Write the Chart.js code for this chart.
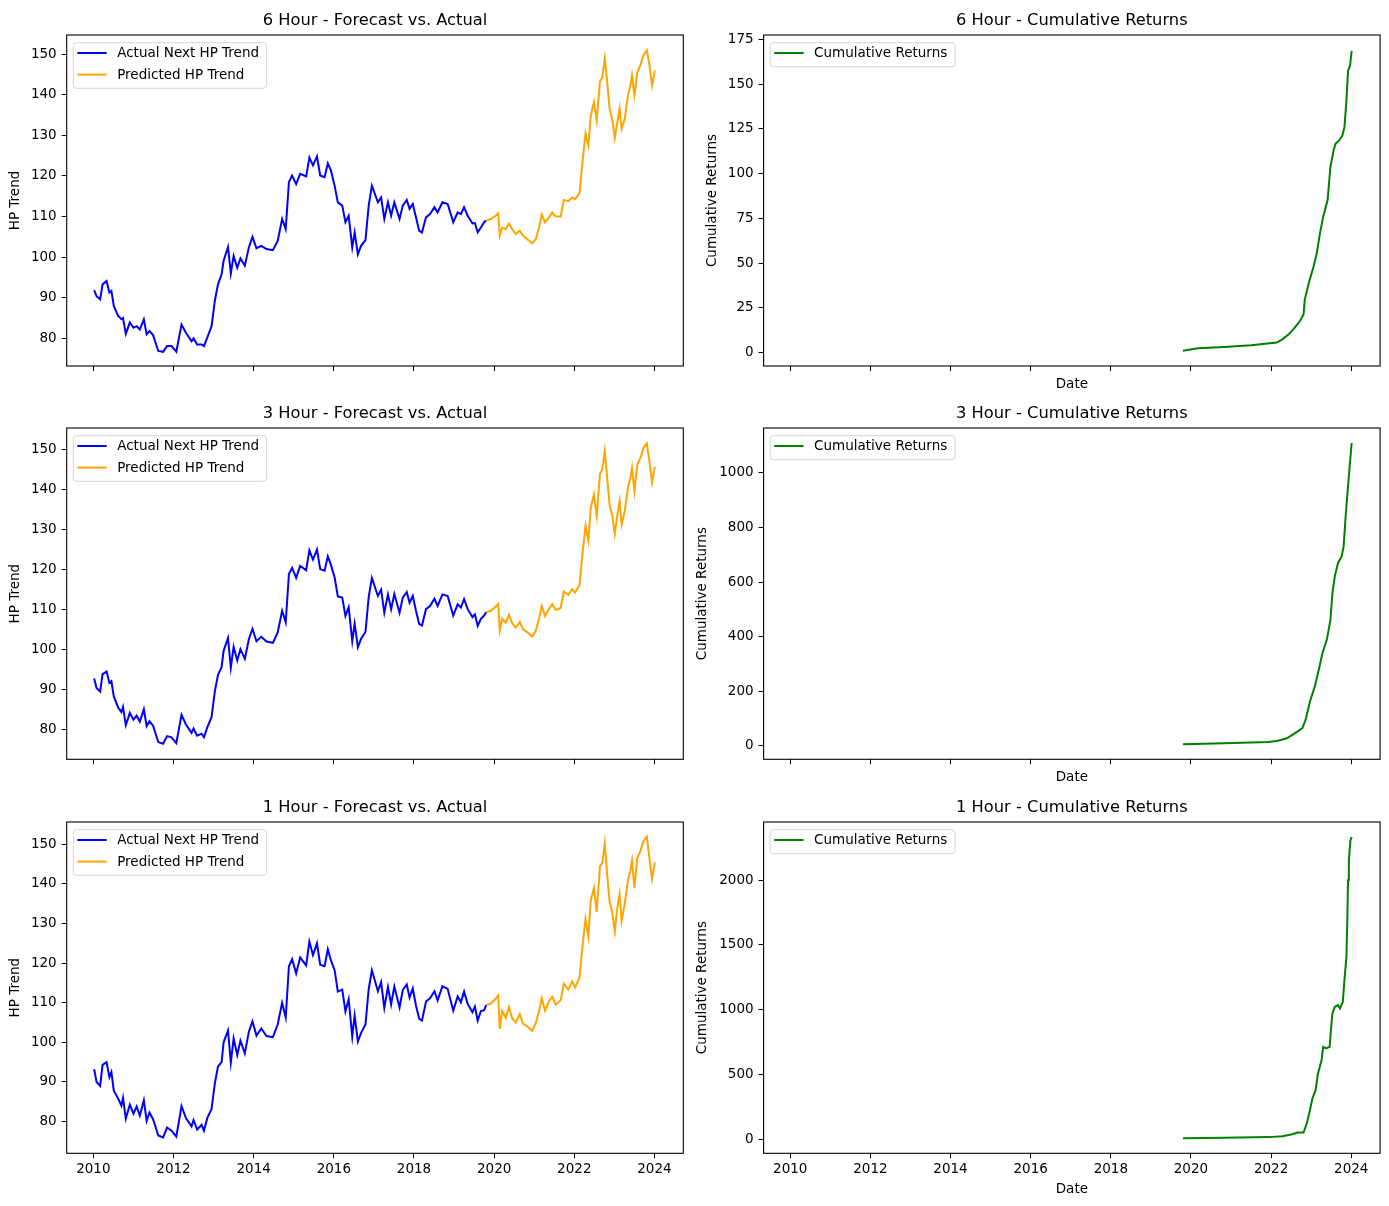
<!DOCTYPE html>
<html>
<head>
<meta charset="utf-8">
<script src="https://cdn.jsdelivr.net/npm/chart.js@4.4.1/dist/chart.umd.min.js"></script>
<style>
  body { margin: 0; background: #fff; }
  #fig { position: relative; width: 1389px; height: 1206px; }
  #fig canvas { position: absolute; }
</style>
</head>
<body>
<div id="fig">
  <canvas id="hp6" width="690" height="393" style="left:0;top:0"></canvas>
  <canvas id="cum6" width="697" height="393" style="left:692px;top:0"></canvas>
  <canvas id="hp3" width="690" height="394" style="left:0;top:393px"></canvas>
  <canvas id="cum3" width="697" height="394" style="left:692px;top:393px"></canvas>
  <canvas id="hp1" width="690" height="419" style="left:0;top:787px"></canvas>
  <canvas id="cum1" width="697" height="419" style="left:692px;top:787px"></canvas>
</div>
<script>
// shared x values (decimal years)
var actualYears = [
  2010.02, 2010.08, 2010.17, 2010.23, 2010.33, 2010.40, 2010.45, 2010.51, 2010.62, 2010.70,
  2010.74, 2010.81, 2010.91, 2011.00, 2011.08, 2011.16, 2011.26, 2011.33, 2011.40, 2011.49,
  2011.62, 2011.74, 2011.84, 2011.95, 2012.07, 2012.20, 2012.31, 2012.45, 2012.50, 2012.59,
  2012.70, 2012.76, 2012.84, 2012.95, 2013.03, 2013.11, 2013.20, 2013.25, 2013.36, 2013.43,
  2013.50, 2013.59, 2013.67, 2013.78, 2013.88, 2013.97, 2014.07, 2014.19, 2014.32, 2014.48,
  2014.60, 2014.71, 2014.80, 2014.88, 2014.96, 2015.06, 2015.16, 2015.31, 2015.39, 2015.48,
  2015.58, 2015.66, 2015.77, 2015.85, 2015.93, 2016.02, 2016.10, 2016.21, 2016.29, 2016.37,
  2016.46, 2016.52, 2016.60, 2016.68, 2016.79, 2016.87, 2016.95, 2017.10, 2017.18, 2017.26,
  2017.35, 2017.43, 2017.51, 2017.64, 2017.72, 2017.82, 2017.89, 2017.97, 2018.05, 2018.13,
  2018.20, 2018.30, 2018.40, 2018.51, 2018.59, 2018.71, 2018.84, 2018.98, 2019.09, 2019.17,
  2019.25, 2019.34, 2019.46, 2019.52, 2019.59, 2019.67, 2019.75, 2019.80
];
var predYears = [
  2019.80, 2019.92, 2020.04, 2020.10, 2020.14, 2020.20, 2020.29, 2020.37, 2020.45, 2020.54,
  2020.64, 2020.72, 2020.83, 2020.95, 2021.04, 2021.12, 2021.19, 2021.27, 2021.37, 2021.45,
  2021.54, 2021.66, 2021.74, 2021.85, 2021.95, 2022.02, 2022.13, 2022.20, 2022.28, 2022.35,
  2022.41, 2022.49, 2022.56, 2022.64, 2022.70, 2022.76, 2022.82, 2022.88, 2022.95, 2023.01,
  2023.07, 2023.13, 2023.18, 2023.26, 2023.34, 2023.40, 2023.44, 2023.50, 2023.57, 2023.65,
  2023.73, 2023.81, 2023.87, 2023.94, 2024.01
];

// 6 hour
var actual6 = [
  91.9, 90.4, 89.6, 93.3, 94.1, 91.3, 91.7, 88.0, 85.5, 84.7,
  85.0, 81.1, 83.9, 82.6, 83.0, 82.2, 84.7, 81.0, 81.8, 80.8,
  76.9, 76.7, 78.1, 78.1, 76.7, 83.4, 81.4, 79.3, 80.0, 78.5,
  78.5, 78.1, 80.1, 83.0, 89.2, 93.3, 95.8, 99.1, 102.5, 96.0,
  100.3, 97.4, 99.7, 97.9, 102.4, 105.0, 102.2, 102.8, 102.0, 101.7,
  104.0, 109.4, 106.9, 118.5, 120.1, 118.0, 120.5, 119.9, 124.5, 122.6,
  124.8, 120.1, 119.7, 123.1, 121.3, 117.6, 113.5, 112.7, 108.6, 110.2,
  102.4, 106.1, 100.7, 102.8, 104.2, 112.7, 117.6, 113.5, 114.7, 109.4,
  113.5, 110.2, 113.5, 109.4, 112.7, 114.1, 111.9, 113.1, 109.8, 106.5,
  106.1, 109.8, 110.6, 112.3, 111.0, 113.5, 113.1, 108.6, 111.0, 110.6,
  112.3, 110.2, 108.3, 108.4, 106.1, 107.3, 108.6, 109.0
];
var pred6 = [
  109.0, 109.4, 110.2, 110.8, 105.3, 107.3, 106.9, 108.3, 106.9, 105.7,
  106.5, 105.3, 104.4, 103.4, 104.4, 107.3, 110.5, 108.6, 109.8, 111.0,
  110.0, 110.0, 114.1, 113.8, 114.7, 114.3, 115.7, 123.0, 130.4, 127.5,
  134.7, 138.2, 133.7, 143.2, 144.4, 148.9, 143.2, 136.6, 133.7, 129.4,
  132.9, 136.6, 131.6, 134.1, 139.9, 142.3, 144.8, 139.9, 145.4, 147.3,
  149.8, 151.0, 147.7, 142.3, 146.0
];

// 3 hour
var actual3 = [
  92.7, 90.3, 89.4, 93.8, 94.4, 91.6, 92.0, 88.2, 85.4, 84.3,
  85.6, 81.0, 84.1, 82.4, 83.4, 81.9, 85.0, 80.8, 82.0, 80.9,
  76.8, 76.4, 78.3, 78.0, 76.5, 83.6, 81.2, 79.1, 80.2, 78.4,
  78.9, 78.0, 80.4, 83.0, 89.4, 93.6, 95.5, 99.6, 102.8, 95.4,
  100.6, 97.2, 100.0, 97.6, 102.5, 105.1, 102.0, 103.1, 101.9, 101.6,
  104.2, 109.6, 106.7, 118.8, 120.3, 117.8, 120.8, 119.7, 124.7, 122.4,
  124.9, 120.0, 119.6, 123.2, 121.0, 117.9, 113.2, 112.9, 108.3, 110.5,
  102.0, 106.4, 100.5, 102.6, 104.3, 113.0, 117.8, 113.3, 114.9, 109.1,
  113.7, 110.0, 113.8, 109.1, 112.9, 114.3, 111.6, 113.3, 109.6, 106.3,
  105.9, 110.0, 110.8, 112.6, 110.8, 113.7, 113.3, 108.4, 111.2, 110.4,
  112.5, 110.0, 108.0, 108.7, 105.8, 107.6, 108.4, 109.2
];
var pred3 = [
  109.2, 109.6, 110.6, 111.3, 104.6, 107.6, 106.6, 108.6, 106.5, 105.4,
  106.8, 105.0, 104.2, 103.2, 104.6, 107.6, 110.8, 108.3, 110.1, 111.2,
  109.8, 110.3, 114.4, 113.6, 115.0, 114.1, 116.0, 123.4, 130.8, 127.1,
  135.2, 138.6, 133.3, 143.8, 144.9, 149.5, 142.8, 136.1, 133.2, 128.8,
  133.3, 137.0, 131.1, 134.5, 140.4, 142.8, 145.3, 139.5, 145.9, 147.8,
  150.3, 151.4, 147.3, 141.6, 145.6
];

// 1 hour
var actual1 = [
  93.2, 90.0, 89.0, 94.3, 95.0, 91.2, 92.5, 87.8, 85.8, 84.0,
  86.0, 80.7, 84.3, 82.0, 83.8, 81.5, 85.4, 80.2, 82.3, 80.6,
  76.5, 76.0, 78.5, 77.7, 76.2, 83.9, 80.9, 78.8, 80.4, 78.0,
  79.2, 77.7, 80.8, 83.2, 89.6, 93.9, 95.0, 100.0, 103.0, 94.9,
  101.0, 96.8, 100.4, 97.2, 102.7, 105.3, 101.7, 103.5, 101.6, 101.3,
  104.5, 110.0, 106.3, 119.2, 121.0, 117.4, 121.4, 119.4, 125.4, 122.0,
  125.0, 119.6, 119.2, 123.5, 120.6, 118.2, 112.8, 113.3, 107.8, 110.9,
  101.5, 106.8, 100.2, 102.4, 104.5, 113.4, 118.2, 112.9, 115.2, 108.7,
  114.0, 109.6, 114.1, 108.8, 113.2, 114.6, 111.3, 113.6, 109.3, 106.0,
  105.5, 110.3, 111.1, 112.9, 110.6, 114.2, 113.5, 108.0, 111.6, 110.1,
  112.8, 109.7, 107.6, 109.0, 105.5, 107.9, 108.1, 109.4
];
var pred1 = [
  109.4, 109.8, 111.0, 111.8, 103.4, 107.9, 106.2, 108.9, 106.1, 105.0,
  107.1, 104.7, 104.0, 102.9, 104.9, 107.9, 111.1, 108.0, 110.4, 111.5,
  109.5, 110.6, 114.8, 113.3, 115.4, 113.8, 116.3, 123.8, 131.2, 126.8,
  135.7, 139.0, 132.9, 144.4, 145.3, 150.2, 142.4, 135.6, 132.6, 128.0,
  133.7, 137.4, 130.6, 135.0, 141.0, 143.3, 145.8, 139.0, 146.4, 148.3,
  150.8, 151.9, 146.9, 141.2, 145.4
];

// cumulative returns
var cumYears6 = [2019.80, 2020.17, 2020.83, 2021.50, 2022.14, 2022.28, 2022.44, 2022.59, 2022.72, 2022.81,
  2022.84, 2022.94, 2023.06, 2023.14, 2023.22, 2023.30, 2023.41, 2023.48, 2023.56, 2023.61,
  2023.70, 2023.78, 2023.83, 2023.88, 2023.92, 2023.97, 2024.01];
var cum6 = [1.0, 2.4, 3.1, 4.1, 5.6, 7.4, 10.2, 13.9, 17.6, 21.3,
  29.6, 38.9, 48.1, 55.6, 66.7, 75.9, 85.2, 103.7, 113.0, 116.7,
  118.5, 121.3, 125.9, 140.7, 157.4, 160.2, 168.5];
var cumYears3 = [2019.80, 2020.83, 2021.94, 2022.17, 2022.39, 2022.59, 2022.78, 2022.86, 2022.97, 2023.09,
  2023.19, 2023.28, 2023.39, 2023.48, 2023.53, 2023.59, 2023.67, 2023.76, 2023.81, 2023.86,
  2023.90, 2023.94, 2024.01];
var cum3 = [5, 8.6, 13, 18, 27, 45, 64, 94, 162, 217,
  278, 339, 388, 461, 559, 621, 670, 694, 731, 841,
  914, 988, 1110];
var cumYears1 = [2019.80, 2020.83, 2021.94, 2022.28, 2022.50, 2022.67, 2022.81, 2022.89, 2022.97, 2023.03,
  2023.11, 2023.17, 2023.26, 2023.30, 2023.37, 2023.46, 2023.50, 2023.53, 2023.59, 2023.67,
  2023.72, 2023.79, 2023.83, 2023.88, 2023.90, 2023.92, 2023.94, 2023.98, 2024.01];
var cum1 = [6, 10, 15, 22, 35, 50, 50, 120, 224, 314,
  378, 507, 610, 713, 700, 713, 867, 970, 1022, 1035,
  1009, 1060, 1228, 1408, 1665, 2000, 2154, 2309, 2333];

// tick labels
var xTicks = [2010, 2012, 2014, 2016, 2018, 2020, 2022, 2024];
var hpTicks = [80, 90, 100, 110, 120, 130, 140, 150];
var cum6Ticks = [0, 25, 50, 75, 100, 125, 150, 175];
var cum3Ticks = [0, 200, 400, 600, 800, 1000];
var cum1Ticks = [0, 500, 1000, 1500, 2000];

var X_MIN = 2009.335, X_MAX = 2024.72;
var FONT = "'DejaVu Sans', sans-serif";

Chart.defaults.font.family = FONT;
Chart.defaults.font.size = 13.5;
Chart.defaults.color = '#000';

function points(xs, ys) {
  return xs.map(function (x, i) { return { x: x, y: ys[i] }; });
}

function roundBox(ctx, l, t, r, b, rad) {
  ctx.beginPath();
  ctx.moveTo(l + rad, t);
  ctx.arcTo(r, t, r, b, rad);
  ctx.arcTo(r, b, l, b, rad);
  ctx.arcTo(l, b, l, t, rad);
  ctx.arcTo(l, t, r, t, rad);
  ctx.closePath();
}

// matplotlib-like legend (upper left, inside the axes) and axes box
var boxPlugin = {
  id: 'boxPlugin',
  afterDatasetsDraw: function (chart) {
    var a = chart.chartArea, ctx = chart.ctx;
    var sets = chart.data.datasets;
    ctx.save();
    ctx.font = '13.5px ' + FONT;
    var w = 0;
    sets.forEach(function (d) { w = Math.max(w, ctx.measureText(d.label).width); });
    var l = a.left + 6.6, t = a.top + 7.7;
    var r = a.left + 50.5 + w + 7.6, b = t + 10 + 21.6 * (sets.length - 1) + 14;
    roundBox(ctx, l, t, r, b, 3);
    ctx.fillStyle = 'rgba(255,255,255,0.8)';
    ctx.fill();
    ctx.strokeStyle = '#d6d6d6';
    ctx.lineWidth = 1;
    ctx.stroke();
    ctx.textBaseline = 'middle';
    ctx.textAlign = 'left';
    sets.forEach(function (d, i) {
      var y = t + 10.3 + 21.6 * i;
      ctx.strokeStyle = d.borderColor;
      ctx.lineWidth = 2;
      ctx.beginPath();
      ctx.moveTo(a.left + 10.6, y);
      ctx.lineTo(a.left + 40, y);
      ctx.stroke();
      ctx.fillStyle = '#000';
      ctx.fillText(d.label, a.left + 50.5, y + 0.5);
    });
    ctx.restore();
  },
  afterDraw: function (chart) {
    var a = chart.chartArea, ctx = chart.ctx;
    ctx.save();
    ctx.strokeStyle = '#000';
    ctx.lineWidth = 1.1;
    ctx.strokeRect(a.left, a.top, a.right - a.left, a.bottom - a.top);
    ctx.restore();
  }
};

function options(o) {
  return {
    responsive: false,
    animation: false,
    layout: { padding: { left: 0, right: o.padRight, top: 0, bottom: 0 }, autoPadding: false },
    elements: { point: { radius: 0 }, line: { borderWidth: 2, tension: 0 } },
    plugins: {
      title: {
        display: true, text: o.title, fullSize: false, color: '#000',
        font: { size: 16.3, weight: 'normal' },
        padding: { top: 11.2, bottom: 4.24 }
      },
      legend: { display: false },
      tooltip: { enabled: false }
    },
    scales: {
      x: {
        type: 'linear', min: X_MIN, max: X_MAX,
        afterBuildTicks: function (ax) { ax.ticks = xTicks.map(function (v) { return { value: v }; }); },
        afterFit: function (s) { s.height = o.xAxisH; },
        border: { display: false },
        grid: { drawOnChartArea: false, color: '#000', tickLength: 5, lineWidth: 1 },
        ticks: {
          display: o.xLabels, padding: 3, color: '#000', autoSkip: false, maxRotation: 0,
          callback: function (v) { return String(v); }
        },
        title: { display: o.xTitle, text: 'Date', color: '#000', padding: { top: 0, bottom: o.xTitlePad } }
      },
      y: {
        min: o.yMin, max: o.yMax,
        afterBuildTicks: function (ax) { ax.ticks = o.yTicks.map(function (v) { return { value: v }; }); },
        afterFit: function (s) { s.width = o.yAxisW; },
        border: { display: false },
        grid: { drawOnChartArea: false, color: '#000', tickLength: 5, lineWidth: 1 },
        ticks: { padding: 5, color: '#000', autoSkip: false, callback: function (v) { return String(v); } },
        title: { display: true, text: o.yTitle, color: '#000', padding: { top: o.yTitlePad, bottom: 0 } }
      }
    }
  };
}

var rows = [
  { xAxisH: 27, xLabels: false, xTitlePad: 0.9 },
  { xAxisH: 27.7, xLabels: false, xTitlePad: 1.6 },
  { xAxisH: 52.7, xLabels: true, xTitlePad: 8.9 }
];

function hpChart(id, row, title, actual, pred, yMin, yMax) {
  var r = rows[row];
  new Chart(document.getElementById(id), {
    type: 'line',
    data: {
      datasets: [
        { label: 'Actual Next HP Trend', data: points(actualYears, actual), borderColor: '#0000ff', backgroundColor: '#0000ff' },
        { label: 'Predicted HP Trend', data: points(predYears, pred), borderColor: '#ffa500', backgroundColor: '#ffa500' }
      ]
    },
    options: options({
      title: title, padRight: 6.7, yAxisW: 66.7, yTitle: 'HP Trend', yTitlePad: 6.9,
      yMin: yMin, yMax: yMax, yTicks: hpTicks,
      xAxisH: r.xAxisH, xLabels: r.xLabels, xTitle: false, xTitlePad: 0
    }),
    plugins: [boxPlugin]
  });
}

function cumChart(id, row, title, years, vals, yMin, yMax, yTicks, yTitlePad) {
  var r = rows[row];
  new Chart(document.getElementById(id), {
    type: 'line',
    data: {
      datasets: [
        { label: 'Cumulative Returns', data: points(years, vals), borderColor: '#008000', backgroundColor: '#008000' }
      ]
    },
    options: options({
      title: title, padRight: 8.9, yAxisW: 71.6, yTitle: 'Cumulative Returns', yTitlePad: yTitlePad,
      yMin: yMin, yMax: yMax, yTicks: yTicks,
      xAxisH: r.xAxisH, xLabels: r.xLabels, xTitle: true, xTitlePad: r.xTitlePad
    }),
    plugins: [boxPlugin]
  });
}

hpChart('hp6', 0, '6 Hour - Forecast vs. Actual', actual6, pred6, 73.2, 154.7);
hpChart('hp3', 1, '3 Hour - Forecast vs. Actual', actual3, pred3, 72.5, 155.25);
hpChart('hp1', 2, '1 Hour - Forecast vs. Actual', actual1, pred1, 72.0, 155.6);
cumChart('cum6', 0, '6 Hour - Cumulative Returns', cumYears6, cum6, -7.5, 177.4, cum6Ticks, 12.2);
cumChart('cum3', 1, '3 Hour - Cumulative Returns', cumYears3, cum3, -50.2, 1165, cum3Ticks, 2.4);
cumChart('cum1', 2, '1 Hour - Cumulative Returns', cumYears1, cum1, -110, 2450, cum1Ticks, 2.4);
</script>
</body>
</html>
